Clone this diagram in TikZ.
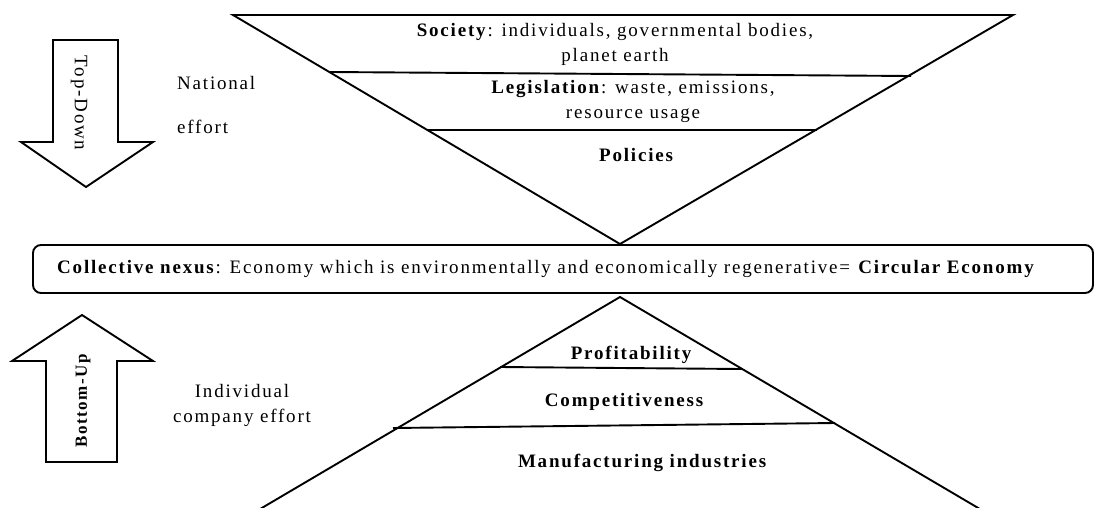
\documentclass[tikz,border=0pt]{standalone}
\usepackage{fontspec}
\setmainfont[LetterSpace=9.5]{Liberation Serif}
\begin{document}
\begin{tikzpicture}[x=1pt,y=-1pt,
  shape line/.style={line width=1.9pt, line join=miter},
  label text/.style={font=\fontsize{19}{25}\selectfont, align=center, inner sep=0pt},
  side text/.style={font=\fontsize{19}{25}\selectfont, inner sep=0pt}]
\useasboundingbox (0,0) rectangle (1096,507);
\clip (0,0) rectangle (1096,507);

% top-down pyramid (inverted)
\coordinate (tl) at (233,15);
\coordinate (tr) at (1013,15);
\coordinate (tapex) at (620,244);
\draw[shape line] (tl) -- (tr) -- (tapex) -- cycle;
\coordinate (s1l) at (330,72);
\coordinate (s1r) at (911,76);
\coordinate (s2l) at (428,130);
\coordinate (s2r) at (817,130);
\draw[shape line] (s1l) -- (s1r);
\draw[shape line] (s2l) -- (s2r);

\node[label text] (society) at (615,44) {\textbf{Society}: individuals, governmental bodies,\\ planet earth};
\node[label text] (legis) at (633,101) {\textbf{Legislation}: waste, emissions,\\ resource usage};
\node[label text] (policies) at (637,155) {\textbf{Policies}};

% collective nexus box
\draw[shape line, rounded corners=8pt] (33,245) rectangle (1093,293);
\node[side text, anchor=west] (nexus) at (57,269) {\textbf{Collective nexus}: Economy which is environmentally and economically regenerative= \textbf{Circular Economy}};

% bottom-up pyramid
\coordinate (bapex) at (620,297);
\coordinate (bl) at (255,512);
\coordinate (br) at (985,512);
\draw[shape line] (bl) -- (bapex) -- (br);
\coordinate (p1l) at (500,367);
\coordinate (p1r) at (742,369);
\coordinate (p2l) at (393,428);
\coordinate (p2r) at (835,423);
\draw[shape line] (p1l) -- (p1r);
\draw[shape line] (p2l) -- (p2r);
\node[label text] (profit) at (632,355) {\textbf{Profitability}};
\node[label text] (compet) at (625,402) {\textbf{Competitiveness}};
\node[label text] (manuf) at (643,463) {\textbf{Manufacturing industries}};

% top-down arrow
\draw[shape line] (53,40) -- (118,40) -- (118,142) -- (153,142) -- (86,187) -- (21,142) -- (53,142) -- cycle;
\node[side text, rotate=-90] (topdown) at (79,103) {Top-Down};
\node[side text, anchor=west] (national) at (177,83) {National};
\node[side text, anchor=west] (effort) at (177,127) {effort};

% bottom-up arrow
\draw[shape line] (46,462) -- (46,361) -- (12,361) -- (82,315) -- (153,361) -- (117,361) -- (117,462) -- cycle;
\node[side text, rotate=90, font=\fontsize{17}{20}\selectfont] (bottomup) at (83,400) {\textbf{Bottom-Up}};
\node[side text, align=center] (company) at (242,405) {Individual\\ company effort};
\end{tikzpicture}
\end{document}
